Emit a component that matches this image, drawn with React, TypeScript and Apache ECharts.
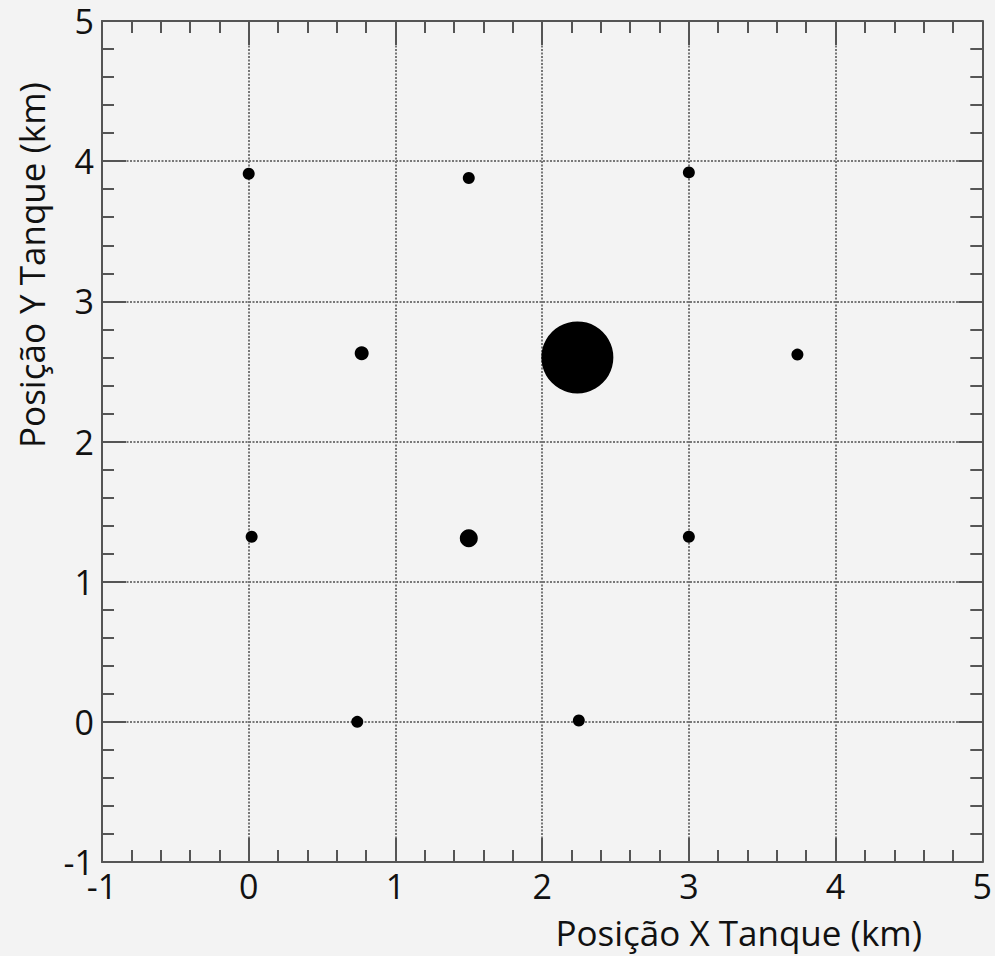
import React, { useEffect, useRef } from "react";
import * as echarts from "echarts";

const xValues = [0.0, 1.5, 3.0, 0.77, 2.24, 3.74, 0.02, 1.5, 3.0, 0.74, 2.25];
const yValues = [3.91, 3.88, 3.92, 2.63, 2.6, 2.62, 1.32, 1.31, 1.32, 0.0, 0.01];
const sizes = [12, 12, 12, 14, 72, 12, 12, 18, 12, 12, 12];
const xTitle = "Posição X Tanque (km)";
const yTitle = "Posição Y Tanque (km)";

const FONT = "Open Sans";

export default function App() {
  const ref = useRef<HTMLDivElement>(null);
  useEffect(() => {
    if (!ref.current) return;
    const chart = echarts.init(ref.current, null, { renderer: "svg" });
    const axisCommon = (show: boolean) => ({
      type: "value" as const,
      min: -1,
      max: 5,
      interval: 1,
      axisLine: { show: true, onZero: false, lineStyle: { color: "#555", width: 2 } },
      axisTick: { show: true, inside: true, length: 24, lineStyle: { color: "#555", width: 2 } },
      minorTick: { show: true, splitNumber: 5, length: 12, lineStyle: { color: "#555", width: 2 } },
      axisLabel: show
        ? { show: true, fontSize: 34, lineHeight: 30, color: "#111", fontFamily: FONT, margin: 9 }
        : { show: false },
      splitLine: show
        ? { show: true, lineStyle: { color: "#777", type: [2, 1.5], width: 2 } }
        : { show: false },
      minorSplitLine: { show: false },
    });
    const data = xValues.map((x, i) => [x, yValues[i], sizes[i]]);
    chart.setOption({
      animation: false,
      backgroundColor: "#f3f3f3",
      grid: { left: 102, top: 21, width: 882, height: 841, containLabel: false },
      xAxis: [
        { ...axisCommon(true), position: "bottom" },
        { ...axisCommon(false), position: "top" },
      ],
      yAxis: [
        {
          ...axisCommon(true),
          position: "left",
          axisLabel: { show: true, fontSize: 34, lineHeight: 30, color: "#111", fontFamily: FONT, margin: 8 },
        },
        { ...axisCommon(false), position: "right" },
      ],
      series: [
        {
          type: "scatter",
          xAxisIndex: 0,
          yAxisIndex: 0,
          data,
          symbol: "circle",
          symbolSize: (v: number[]) => v[2],
          itemStyle: { color: "#000", opacity: 1 },
        },
      ],
      graphic: [
        {
          type: "text",
          x: 922,
          y: 932,
          style: { text: xTitle, fontSize: 35, fontFamily: FONT, fill: "#111", align: "right", verticalAlign: "middle" },
        },
        {
          type: "text",
          x: 31,
          y: 265,
          rotation: Math.PI / 2,
          style: {
            text: yTitle,
            fontSize: 35,
            fontFamily: FONT,
            fill: "#111",
            align: "center",
            verticalAlign: "middle",
          },
        },
      ],
    });
    return () => chart.dispose();
  }, []);
  return (
    <div
      ref={ref}
      style={{ position: "fixed", left: 0, top: 0, width: 995, height: 956 }}
    />
  );
}
